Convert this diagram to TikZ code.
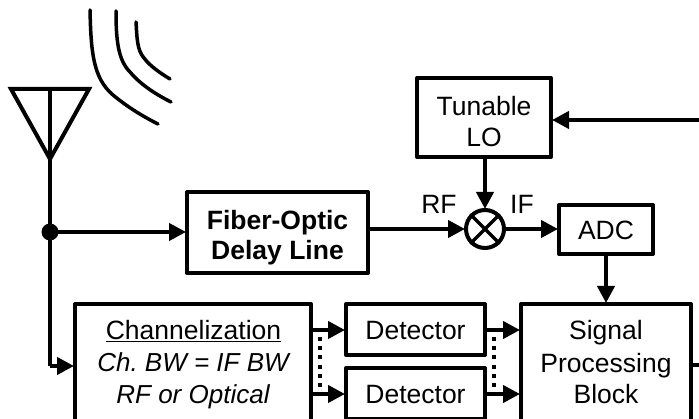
\documentclass[tikz,border=0pt]{standalone}
\usepackage{fontspec}
\setmainfont{Liberation Sans}
\usetikzlibrary{arrows.meta,shapes.misc,calc}
\begin{document}
\frenchspacing
\begin{tikzpicture}[x=1pt,y=-1pt,
  block/.style={draw=black,line width=4pt,fill=white,inner sep=0pt,rectangle,line join=round},
  wire/.style={line width=4pt,draw=black},
  arrow/.style={wire,-{Triangle[length=17pt,width=17pt]},shorten >=-1pt},
  lab/.style={font=\fontsize{26.5}{30}\selectfont,inner sep=0pt,anchor=base},
  wave/.style={line width=3.5pt,line cap=round}]
\useasboundingbox (0,0) rectangle (699,419);
\clip (0,0) rectangle (699,419);
\node[block,minimum width=134pt,minimum height=79pt] (lo) at (484,117.5) {};
\node[lab] (lo1) at (484,116) {Tunable};
\node[lab] (lo2) at (484,147) {LO};
\node[block,minimum width=181pt,minimum height=81pt] (fiber) at (277.5,232.5) {};
\node[lab,font=\fontsize{26.5}{30}\selectfont\bfseries] (f1) at (277.5,230) {Fiber-Optic};
\node[lab,font=\fontsize{26.5}{30}\selectfont\bfseries] (f2) at (277.5,260) {Delay Line};
\node[block,minimum width=94pt,minimum height=49pt] (adc) at (606,229.5) {};
\node[lab] (adct) at (606,240) {ADC};
\node[block,minimum width=236pt,minimum height=130pt,anchor=north west] (chan) at (73,302) {};
\node[lab] (c1) at (193.5,340) {\underline{Channelization}};
\node[lab,font=\fontsize{26}{30}\selectfont] (c2) at (193,372) {\itshape Ch. BW = IF BW};
\node[lab,font=\fontsize{26}{30}\selectfont] (c3) at (193,404) {\itshape RF or Optical};
\node[block,minimum width=139pt,minimum height=51pt,anchor=north] (d1) at (415.5,302) {};
\node[lab] (d1t) at (415.5,340) {Detector};
\node[block,minimum width=139pt,minimum height=51pt,anchor=north] (d2) at (415.5,366) {};
\node[lab] (d2t) at (415.5,404) {Detector};
\node[block,minimum width=170pt,minimum height=130pt,anchor=north west] (sp) at (519,302) {};
\node[lab] (s1) at (606,340) {Signal};
\node[lab] (s2) at (606,373) {Processing};
\node[lab] (s3) at (606,404) {Block};
\node[circle,draw=black,line width=4pt,minimum size=38pt,inner sep=0pt] (mix) at (485,229) {};
\draw[line width=3.5pt] (mix.45) -- (mix.225) (mix.135) -- (mix.315);
\node[lab] (rf) at (439,214) {RF};
\node[lab] (if) at (522,214) {IF};
\coordinate (atop) at (50,89);
\coordinate (atip) at (50,159);
\coordinate (al) at (11,89);
\coordinate (ar) at (89,89);
\coordinate (bend) at (50,366);
\coordinate (loin) at (699,120);
\coordinate (spout) at (699,365);
\node[circle,fill=black,minimum size=17pt,inner sep=0pt] (dot) at (50,232) {};
\draw[line width=4pt,line join=miter] (al) -- (ar) -- (atip) -- cycle;
\draw[wire] (atop) -- (bend);
\draw[arrow] (bend) -- (chan.west |- bend);
\draw[arrow] (dot.center) -- (fiber.west |- dot);
\draw[arrow] (fiber.east |- mix) -- (mix.west);
\draw[arrow] (mix.east) -- (adc.west |- mix.east);
\draw[arrow] (lo.south -| mix) -- (mix.north);
\draw[arrow] (adc.south) -- (sp.north -| adc.south);
\draw[arrow] (loin) -- (lo.east |- loin);
\draw[wire] (sp.east |- spout) -- (spout);
\coordinate (a0) at (0,330);
\coordinate (a1) at (0,394);
\draw[arrow] (chan.east |- a0) -- (d1.west |- a0);
\draw[arrow] (chan.east |- a1) -- (d2.west |- a1);
\draw[arrow] (d1.east |- a0) -- (sp.west |- a0);
\draw[arrow] (d2.east |- a1) -- (sp.west |- a1);
\draw[line width=4pt,dash pattern=on 4pt off 5.2pt] (320,337) -- (320,388);
\draw[line width=4pt,dash pattern=on 4pt off 5.2pt] (494,337) -- (494,388);
\draw[wave] (90,10) .. controls (91,52) and (93,78) .. (113,95) .. controls (125,105) and (140,115) .. (158,124);
\draw[wave] (116,11) .. controls (116,40) and (118,60) .. (130,72) .. controls (140,84) and (155,94) .. (171,102);
\draw[wave] (136,22) .. controls (137,38) and (137,50) .. (144,58) .. controls (150,66) and (160,73) .. (170,79);
\end{tikzpicture}
\end{document}
